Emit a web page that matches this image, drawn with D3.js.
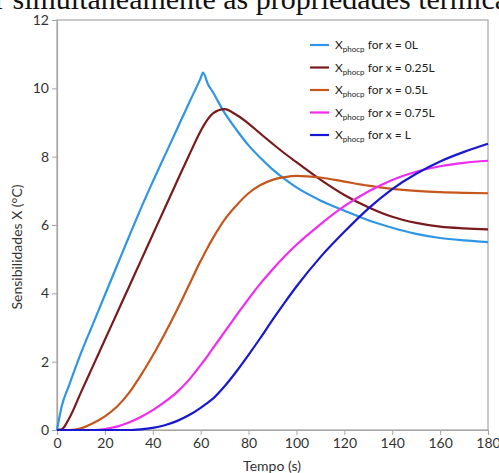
<!DOCTYPE html>
<html>
<head>
<meta charset="utf-8">
<script src="https://cdn.jsdelivr.net/npm/d3@7"></script>
<style>
  body { margin: 0; background: #fff; }
  svg { display: block; }
  .tick text { font-family: Lato, "Open Sans", sans-serif; font-size: 14px; fill: #333; }
</style>
</head>
<body>
<div id="chart"></div>
<script>
// time grid (s) shared by all series
var tempo = [0, 2, 5, 10, 15, 20, 25, 30, 35, 40, 45, 50, 55, 60, 61, 63, 65, 70, 75, 80,
             85, 90, 95, 100, 110, 120, 130, 140, 150, 160, 170, 180];

// sensitivities (°C) at x = 0L, 0.25L, 0.5L, 0.75L, L
var x00 = [0, 0.7, 1.3, 2.25, 3.1, 3.95, 4.8, 5.65, 6.48, 7.27, 8.03, 8.79, 9.55, 10.3, 10.46, 10.13,
           9.9, 9.28, 8.78, 8.33, 7.96, 7.63, 7.35, 7.1, 6.72, 6.42, 6.14, 5.92, 5.74, 5.62, 5.55, 5.5];
var x025 = [0, 0.02, 0.33, 1.1, 1.87, 2.64, 3.41, 4.18, 4.95, 5.72, 6.49, 7.26, 8.02, 8.75, 8.88, 9.1,
            9.26, 9.39, 9.22, 8.97, 8.67, 8.38, 8.1, 7.84, 7.33, 6.88, 6.52, 6.24, 6.06, 5.95, 5.9, 5.87];
var x05 = [0, 0, 0, 0.05, 0.2, 0.4, 0.68, 1.08, 1.6, 2.18, 2.82, 3.5, 4.22, 4.95, 5.08, 5.35,
           5.6, 6.16, 6.58, 6.93, 7.17, 7.32, 7.4, 7.44, 7.39, 7.27, 7.15, 7.06, 7.0, 6.96, 6.94, 6.93];
var x075 = [0, 0, 0, 0, 0, 0.03, 0.1, 0.22, 0.38, 0.58, 0.82, 1.1, 1.46, 1.9, 1.99, 2.18,
            2.38, 2.87, 3.36, 3.84, 4.29, 4.7, 5.08, 5.42, 6.02, 6.55, 6.98, 7.32, 7.56, 7.72, 7.82, 7.88];
var x10 = [0, 0, 0, 0, 0, 0, 0, 0, 0.02, 0.06, 0.14, 0.26, 0.43, 0.65, 0.7, 0.8,
           0.91, 1.28, 1.72, 2.2, 2.7, 3.22, 3.72, 4.2, 5.06, 5.8, 6.48, 7.05, 7.5, 7.86, 8.14, 8.38];

var legendLabels = ["for x = 0L", "for x = 0.25L", "for x = 0.5L", "for x = 0.75L", "for x = L"];
var colors = ["#2f95e6", "#7a1a1c", "#c5561c", "#f02cf0", "#1818d0"];
var xTicks = [0, 20, 40, 60, 80, 100, 120, 140, 160, 180];
var yTicks = [0, 2, 4, 6, 8, 10, 12];

var width = 499, height = 473;
var margin = { top: 20, right: 11, bottom: 43, left: 57 };
var w = width - margin.left - margin.right,
    h = height - margin.top - margin.bottom;

var svg = d3.select("#chart").append("svg")
    .attr("width", width).attr("height", height);

// cropped line of document text above the chart
svg.append("text")
    .attr("x", -5).attr("y", 9)
    .style("font-family", "'Liberation Serif', 'Times New Roman', serif")
    .style("font-size", "30px")
    .style("fill", "#111")
    .text("r simultaneamente as propriedades térmicas");

var g = svg.append("g").attr("transform", "translate(" + margin.left + "," + margin.top + ")");

var xScale = d3.scaleLinear().domain([0, 180]).range([0, w]);
var yScale = d3.scaleLinear().domain([0, 12]).range([h, 0]);

// frame
g.append("rect").attr("width", w).attr("height", h)
    .attr("fill", "none").attr("stroke", "#a6a6a6").attr("stroke-width", 1.2);

var xAxis = g.append("g").attr("transform", "translate(0," + h + ")")
    .call(d3.axisBottom(xScale).tickValues(xTicks).tickSize(5).tickPadding(3));
var yAxis = g.append("g")
    .call(d3.axisLeft(yScale).tickValues(yTicks).tickSize(5).tickPadding(3));
[xAxis, yAxis].forEach(function (a) {
    a.select(".domain").attr("stroke", "#a6a6a6").attr("stroke-width", 1.2);
    a.selectAll(".tick line").attr("stroke", "#a6a6a6");
});

var series = [x00, x025, x05, x075, x10];
var line = d3.line()
    .x(function (d, i) { return xScale(tempo[i]); })
    .y(function (d) { return yScale(d); })
    .curve(d3.curveMonotoneX);

g.selectAll("path.serie").data(series).enter().append("path")
    .attr("class", "serie")
    .attr("d", line)
    .attr("fill", "none")
    .attr("stroke", function (d, i) { return colors[i]; })
    .attr("stroke-width", 2.2);

// axis titles
svg.append("text")
    .attr("x", 272).attr("y", 471)
    .attr("text-anchor", "middle")
    .style("font-family", "Lato, 'Open Sans', sans-serif")
    .style("font-size", "14px").style("fill", "#333")
    .text("Tempo (s)");
svg.append("text")
    .attr("transform", "translate(22,247) rotate(-90)")
    .attr("text-anchor", "middle")
    .style("font-family", "Lato, 'Open Sans', sans-serif")
    .style("font-size", "14px").style("fill", "#333")
    .text("Sensibilidades X (°C)");

// legend
var legend = svg.append("g").attr("transform", "translate(310,45)");
var item = legend.selectAll("g").data(legendLabels).enter().append("g")
    .attr("transform", function (d, i) { return "translate(0," + (i * 22.5) + ")"; });
item.append("line")
    .attr("x1", 0).attr("x2", 19)
    .attr("stroke", function (d, i) { return colors[i]; })
    .attr("stroke-width", 2.2);
var lt = item.append("text")
    .attr("x", 25).attr("y", 4)
    .style("font-family", "Lato, 'Open Sans', sans-serif")
    .style("font-size", "12px").style("fill", "#222");
lt.append("tspan").text("X");
lt.append("tspan").attr("dy", 3).style("font-size", "8px").text("phocp");
lt.append("tspan").attr("dy", -3).text(function (d) { return " " + d; });
</script>
</body>
</html>
